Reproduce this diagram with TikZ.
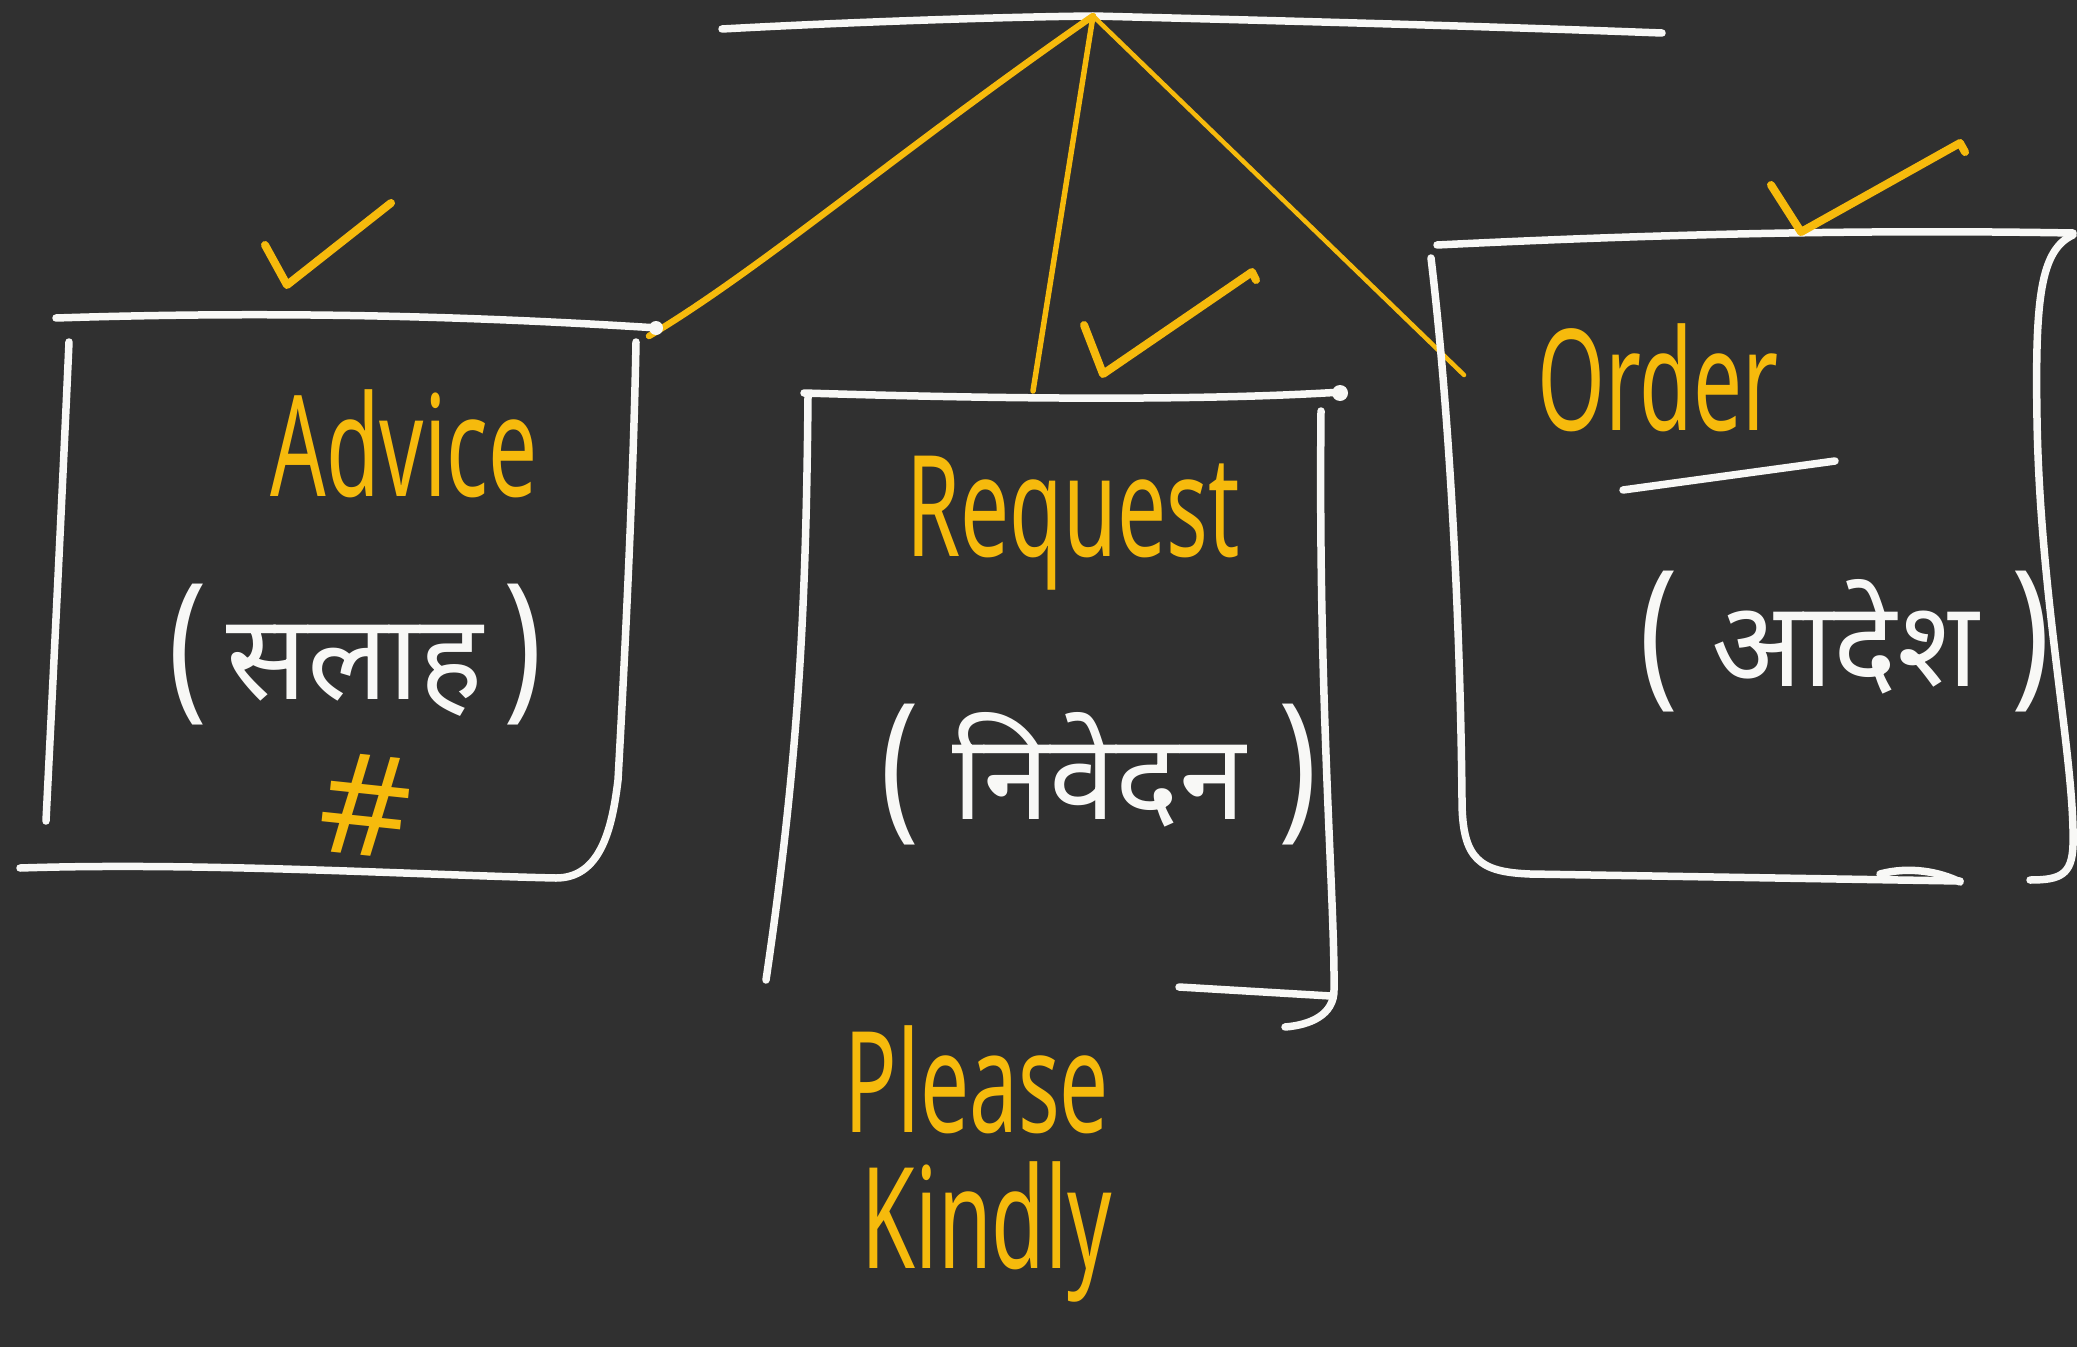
\documentclass[tikz,border=0pt]{standalone}
\usepackage{fontspec}
\setmainfont{Noto Sans}
\newfontfamily\deva[Script=Devanagari]{Noto Sans}
\definecolor{bg}{RGB}{48,48,48}
\definecolor{chalk}{RGB}{248,248,246}
\definecolor{marker}{RGB}{246,186,12}
\newcommand{\narrowtxt}[1]{\scalebox{0.62}[1]{#1}}
\newcommand{\bigparen}[1]{{\fontsize{46}{46}\selectfont\scalebox{0.8}[1]{#1}}}
\tikzset{
  wline/.style={draw=chalk,line width=0.75mm,line cap=round,line join=round},
  yline/.style={draw=marker,line width=0.55mm,line cap=round,line join=round},
  tick/.style={draw=marker,line width=0.8mm,line cap=round,line join=round},
  eng/.style={text=marker,font=\fontsize{40}{44}\selectfont,inner sep=0pt},
  hin/.style={text=chalk,font=\deva\fontsize{34}{40}\selectfont,inner sep=0pt},
}
\begin{document}
\begin{tikzpicture}[x=0.1mm,y=-0.1mm]
\fill[bg] (0,0) rectangle (2077,1347);
\useasboundingbox (0,0) rectangle (2077,1347);

% ---- coordinates ----
\coordinate (topL) at (722,29);
\coordinate (apex) at (1093,16);
\coordinate (topR) at (1662,33);
\coordinate (advTR) at (649,336);
\coordinate (reqT) at (1033,391);
\coordinate (ordL) at (1464,375);

% ---- top line ----
\draw[wline] (topL) .. controls (850,22) and (1000,17) .. (apex) .. controls (1250,20) and (1450,25) .. (topR);

% ---- yellow connectors ----
\draw[yline,line width=0.65mm] (apex) .. controls (900,150) and (760,270) .. (advTR);
\draw[yline] (apex) -- (reqT);
\draw[yline,line width=0.45mm] (apex) -- (ordL);

% ---- Advice box ----
\draw[wline] (56,318) .. controls (300,310) and (500,318) .. (658,328);
\fill[chalk] (656,328) circle (7);
\draw[wline] (69,342) .. controls (62,500) and (52,700) .. (46,821);
\draw[wline] (20,868) .. controls (200,862) and (420,875) .. (556,878)
  .. controls (600,878) and (612,830) .. (618,780)
  .. controls (628,600) and (634,450) .. (636,342);

% ---- Request box ----
\draw[wline] (804,393) .. controls (1000,399) and (1200,401) .. (1342,392);
\fill[chalk] (1340,393) circle (8);
\draw[wline] (808,397) .. controls (806,600) and (800,750) .. (766,980);
\draw[wline] (1321,411) .. controls (1318,700) and (1335,900) .. (1334,990)
  .. controls (1334,1015) and (1310,1025) .. (1285,1027);
\draw[wline] (1179,987) -- (1331,996);

% ---- Order box ----
\draw[wline] (1437,245) .. controls (1700,232) and (1900,230) .. (2073,233);
\draw[wline] (1431,258) .. controls (1448,400) and (1460,600) .. (1462,800)
  .. controls (1462,860) and (1480,872) .. (1530,874) -- (1960,881);
\draw[wline] (1880,874) .. controls (1910,866) and (1940,872) .. (1960,882);
\draw[wline] (2073,235) .. controls (2040,250) and (2035,300) .. (2037,420)
  .. controls (2040,600) and (2075,760) .. (2073,845)
  .. controls (2072,875) and (2060,880) .. (2030,880);
\draw[wline] (1623,490) -- (1835,461);

% ---- check marks ----
\draw[tick] (265,245) -- (287,285) -- (391,203);
\draw[tick] (1084,325) -- (1103,374) -- (1252,272) -- (1256,280);
\draw[tick] (1771,185) -- (1801,232) -- (1960,143) -- (1965,152);

% ---- texts ----
\node[eng] (advice) at (404,444) {\narrowtxt{Advice}};
\node[hin] (salah) at (355,655) {\bigparen{(}\,सलाह\,\bigparen{)}};
\node[eng,font=\fontsize{40}{40}\selectfont,rotate=-6] (hash) at (366,805) {\#};

\node[eng] (request) at (1073,523) {\narrowtxt{Request}};
\node[hin] (nivedan) at (1099,775) {\bigparen{(}\;निवेदन\;\bigparen{)}};

\node[eng] (please) at (977,1080) {\narrowtxt{Please}};
\node[eng] (kindly) at (987,1232) {\narrowtxt{Kindly}};

\node[eng] (order) at (1658,378) {\narrowtxt{Order}};
\node[hin] (aadesh) at (1845,642) {\bigparen{(}\;आदेश\;\bigparen{)}};
\end{tikzpicture}
\end{document}
